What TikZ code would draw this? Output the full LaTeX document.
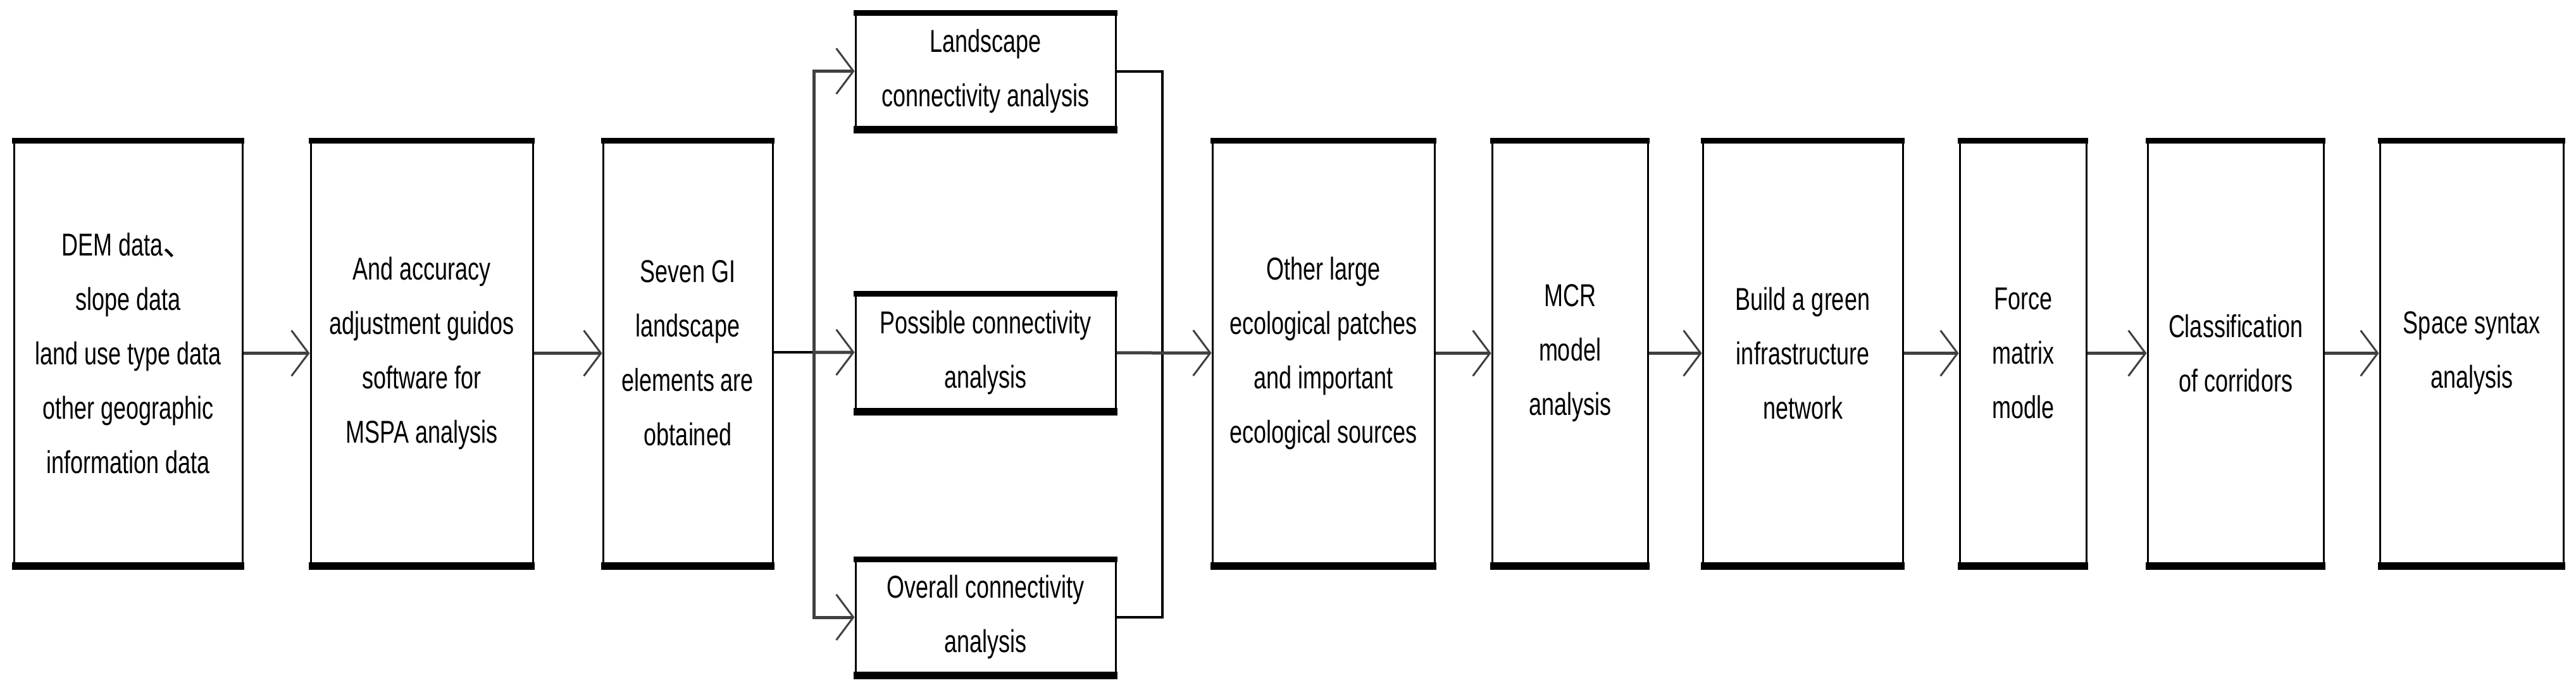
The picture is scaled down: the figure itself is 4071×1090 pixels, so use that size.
\documentclass[tikz,border=0pt]{standalone}
\usepackage{fontspec}
\setmainfont{Liberation Sans}[FakeStretch=0.72]
\newfontfamily\cjk{Noto Sans CJK SC}
\usetikzlibrary{arrows.meta}
\begin{document}
\begin{tikzpicture}[x=1pt,y=-1pt,
  box/.style={draw=black,line width=3pt,fill=white,inner sep=4pt,align=center,
    font=\fontsize{50}{86}\selectfont,
    append after command={\pgfextra{\let\mynode\tikzlastnode}
      (\mynode.north west) edge[line width=9pt,-,shorten <=-1.5pt,shorten >=-1.5pt] (\mynode.north east)
      (\mynode.south west) edge[line width=12pt,-,shorten <=-1.5pt,shorten >=-1.5pt] (\mynode.south east)}},
  conn/.style={line width=5pt,draw=black!75,-{Straight Barb[length=27pt,width=72pt,line width=3pt]}},
  link/.style={line width=4pt,draw=black}]
\useasboundingbox (0,0) rectangle (4071,1090);
\newcommand{\bx}[6]{\node[box,minimum width=#3-#2,minimum height=#5-#4] (#1) at ({(#2+#3)/2},{(#4+#5)/2}) {#6};}
\bx{a}{22}{383}{224}{893}{DEM data{\cjk 、}\\slope data\\land use type data\\other geographic\\information data}
\bx{b}{491}{842}{224}{893}{And accuracy\\adjustment guidos\\software for\\MSPA analysis}
\bx{c}{953}{1221}{224}{893}{Seven GI\\landscape\\elements are\\obtained}
\bx{l1}{1352}{1763}{22}{203}{Landscape\\connectivity analysis}
\bx{l2}{1352}{1763}{466}{649}{Possible connectivity\\analysis}
\bx{l3}{1352}{1763}{886}{1066}{Overall connectivity\\analysis}
\bx{e}{1916}{2267}{224}{893}{Other large\\ecological patches\\and important\\ecological sources}
\bx{f}{2358}{2604}{224}{893}{MCR\\model\\analysis}
\bx{g}{2691}{3007}{224}{893}{Build a green\\infrastructure\\network}
\bx{h}{3097}{3297}{224}{893}{Force\\matrix\\modle}
\bx{i}{3394}{3672}{224}{893}{Classification\\of corridors}
\bx{j}{3761}{4051}{224}{893}{Space syntax\\analysis}
\coordinate (sp) at (1286,557);
\coordinate (mg) at (1837,557);
\draw[conn] (a) -- (b);
\draw[conn] (b) -- (c);
\draw[link] (c.east |- sp) -- (sp);
\draw[conn] (sp) -- (l2);
\draw[conn] (sp) |- (l1);
\draw[conn] (sp) |- (l3);
\draw[link] (l1) -| (mg);
\draw[link] (l3) -| (mg);
\draw[conn] (l2) -- (e);
\draw[conn] (e) -- (f);
\draw[conn] (f) -- (g);
\draw[conn] (g) -- (h);
\draw[conn] (h) -- (i);
\draw[conn] (i) -- (j);
\end{tikzpicture}
\end{document}
